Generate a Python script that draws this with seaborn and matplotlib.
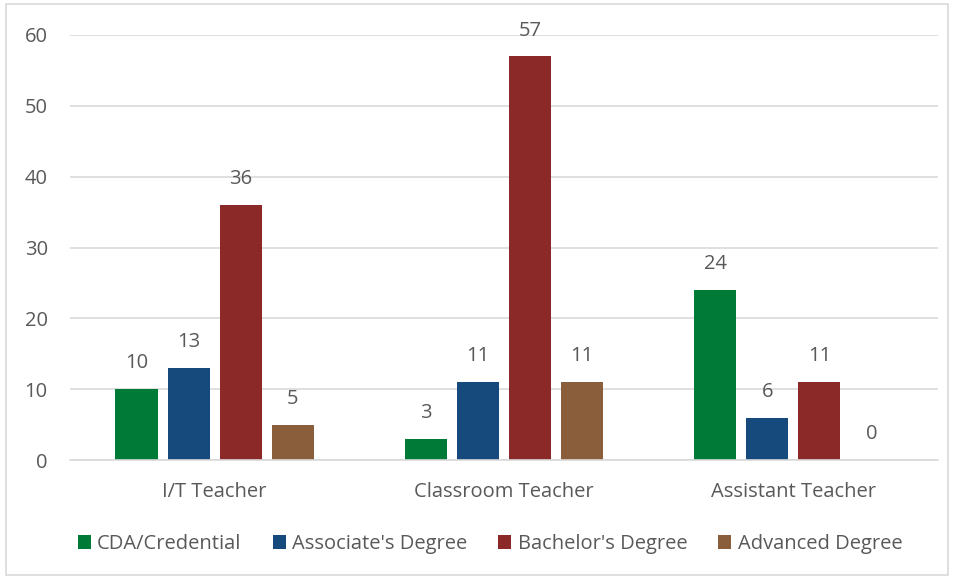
import matplotlib
matplotlib.use("Agg")
import matplotlib.pyplot as plt
import seaborn as sns
import pandas as pd
from matplotlib.patches import Rectangle

categories = ["I/T Teacher", "Classroom Teacher", "Assistant Teacher"]
series = ["CDA/Credential", "Associate's Degree", "Bachelor's Degree", "Advanced Degree"]
cda = [10, 3, 24]
associate = [13, 11, 6]
bachelor = [36, 57, 11]
advanced = [5, 11, 0]
colors = ["#007A37", "#174A7C", "#8B2929", "#8B5E3B"]

values = [cda, associate, bachelor, advanced]
rows = []
for s, vals in zip(series, values):
    for c, v in zip(categories, vals):
        rows.append({"Role": c, "Degree": s, "Count": v})
df = pd.DataFrame(rows)

sns.set_theme(style="white")
plt.rcParams['font.family'] = ['Open Sans', 'DejaVu Sans']
txt = "#595959"
grid = "#D9D9D9"
fs = 14.5

fig = plt.figure(figsize=(9.54, 5.79), dpi=100)
ax = fig.add_axes([70/954, 119/579, 868/954, 425/579])

sns.barplot(data=df, x="Role", y="Count", hue="Degree", order=categories,
            hue_order=series, palette=colors, width=0.72, gap=0.19,
            saturation=1, ax=ax, legend=True, edgecolor="none")

ax.set_ylim(0, 60)
ax.set_xlim(-0.5, 2.5)
ax.set_yticks(range(0, 61, 10))
ax.yaxis.grid(True, color=grid, linewidth=1.2)
ax.set_axisbelow(True)
for sp in ["top", "right", "left"]:
    ax.spines[sp].set_visible(False)
ax.spines["bottom"].set_color(grid)
ax.spines["bottom"].set_linewidth(1.2)
ax.tick_params(axis="both", length=0, labelsize=fs, colors=txt)
ax.tick_params(axis="y", pad=16)
ax.tick_params(axis="x", pad=16)
ax.set_xlabel("")
ax.set_ylabel("")

for cont in ax.containers:
    for bar in cont:
        h = bar.get_height()
        ax.annotate(f"{int(round(h))}", (bar.get_x() + bar.get_width()/2, h),
                    xytext=(0, 18.5), textcoords="offset points",
                    ha="center", va="center", fontsize=fs, color=txt)

ax.legend(loc="center", bbox_to_anchor=(0.484, -0.198), ncol=4,
          frameon=False, fontsize=fs, labelcolor=txt, handlelength=0.65,
          handleheight=0.65, handletextpad=0.3, columnspacing=1.55,
          borderpad=0, borderaxespad=0)

fig.patches.append(Rectangle((6/954, 4/579), 942/954, 571/579, transform=fig.transFigure,
                             fill=False, edgecolor="#D9D9D9", linewidth=1.2))

fig.savefig("out.png", dpi=100)
